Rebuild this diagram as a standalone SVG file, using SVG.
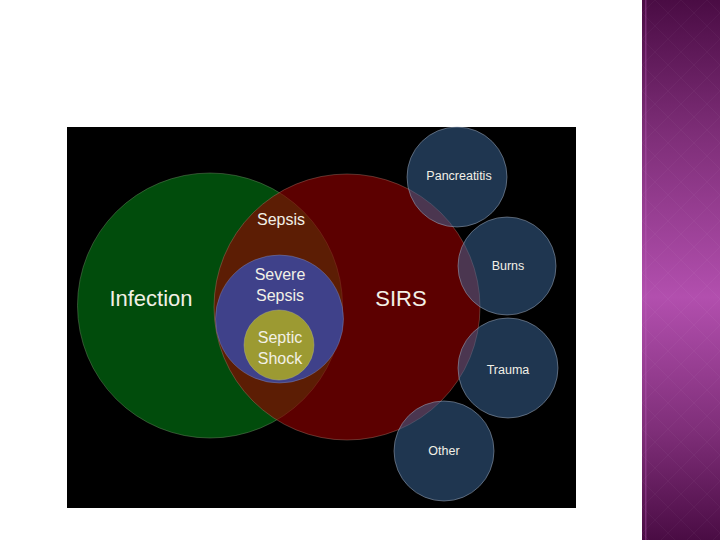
<svg xmlns="http://www.w3.org/2000/svg" width="720" height="540" viewBox="0 0 720 540">
<defs>
<linearGradient id="bar" x1="0" y1="0" x2="0" y2="1">
<stop offset="0" stop-color="#4a0c44"/>
<stop offset="0.25" stop-color="#7e2e78"/>
<stop offset="0.55" stop-color="#b24fae"/>
<stop offset="0.8" stop-color="#7e2e78"/>
<stop offset="1" stop-color="#4a0c44"/>
</linearGradient>
<pattern id="dia" width="26" height="26" patternUnits="userSpaceOnUse" x="642">
<path d="M13 0 L26 13 L13 26 L0 13 Z" fill="none" stroke="#ffffff" stroke-opacity="0.03" stroke-width="1"/>
</pattern>
</defs>
<style>
.t{font-family:"Liberation Sans",Arial,sans-serif;fill:#f2f0e6;text-anchor:middle}
.big{font-size:22px}
.mid{font-size:16px}
.sm{font-size:12.5px}
.blue{fill:rgb(60,104,154);fill-opacity:0.52;stroke:#a8b4c4;stroke-opacity:0.6;stroke-width:0.8}
</style>
<rect width="720" height="540" fill="#ffffff"/>
<rect x="642" y="0" width="78" height="540" fill="url(#bar)"/>
<rect x="642" y="0" width="78" height="540" fill="url(#dia)"/>
<rect x="645" y="0" width="1.5" height="540" fill="#c060bc" fill-opacity="0.35"/>
<rect x="67" y="127" width="509" height="381" fill="#000000"/>
<g id="infection">
<circle cx="210" cy="305.5" r="132.5" fill="#014c0c" stroke="#6a8a60" stroke-opacity="0.6" stroke-width="0.8"/>
</g>
<g id="sirs">
<circle cx="347" cy="307" r="133" fill="rgb(148,0,0)" fill-opacity="0.62" stroke="#b08070" stroke-opacity="0.5" stroke-width="0.8"/>
</g>
<g id="severe-sepsis">
<circle cx="279.5" cy="319" r="64" fill="#3f418a" stroke="#9090b0" stroke-opacity="0.5" stroke-width="0.8"/>
</g>
<g id="septic-shock">
<circle cx="279" cy="345" r="35" fill="#9c9a32" stroke="#c0c080" stroke-opacity="0.5" stroke-width="0.8"/>
</g>
<g id="pancreatitis"><circle class="blue" cx="457" cy="177" r="50"/></g>
<g id="burns"><circle class="blue" cx="507" cy="266" r="49"/></g>
<g id="trauma"><circle class="blue" cx="508" cy="368" r="50"/></g>
<g id="other"><circle class="blue" cx="444" cy="451" r="50"/></g>
<g id="connectors"></g>
<g id="labels">
<text class="t big" x="151" y="306">Infection</text>
<text class="t big" x="401" y="306">SIRS</text>
<text class="t mid" x="281" y="225">Sepsis</text>
<text class="t mid" x="280" y="280">Severe</text>
<text class="t mid" x="280" y="301">Sepsis</text>
<text class="t mid" x="280" y="343">Septic</text>
<text class="t mid" x="280" y="364">Shock</text>
<text class="t sm" x="459" y="180">Pancreatitis</text>
<text class="t sm" x="508" y="270">Burns</text>
<text class="t sm" x="508" y="374">Trauma</text>
<text class="t sm" x="444" y="455">Other</text>
</g>
</svg>
